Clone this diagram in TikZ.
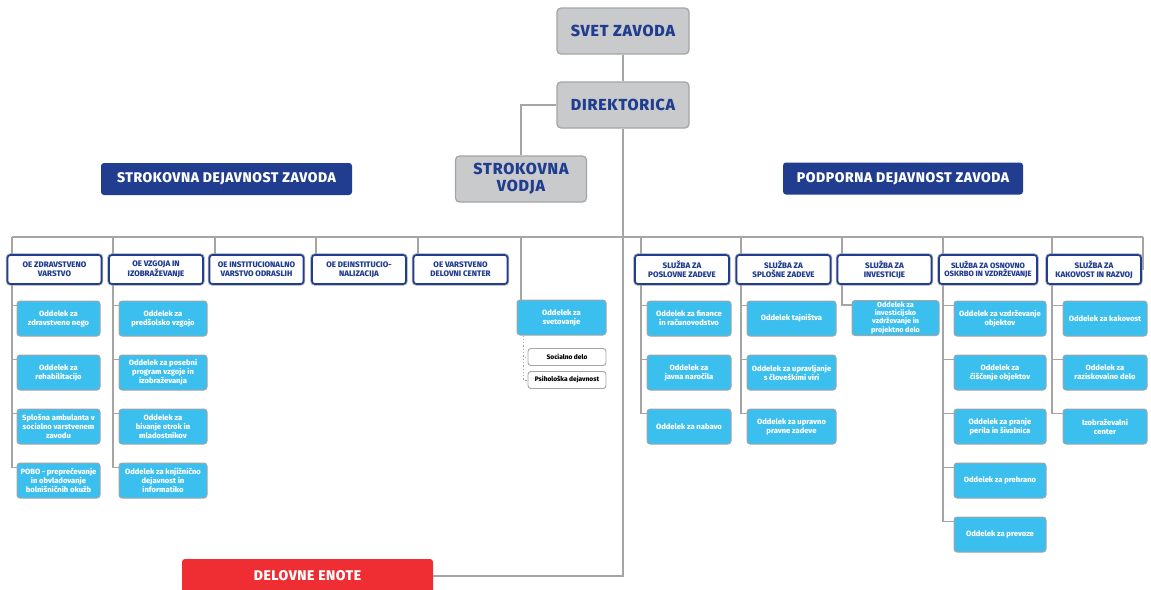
\documentclass[tikz,border=0pt]{standalone}
\usepackage{fontspec}
\setmainfont{Fira Sans}[BoldFont={Fira Sans ExtraBold}]
\usetikzlibrary{shapes,positioning,backgrounds}
\definecolor{navy}{HTML}{213D8F}
\definecolor{boxgray}{HTML}{A3A4A6}
\definecolor{topgray}{HTML}{C9CACC}
\definecolor{cellblue}{HTML}{3BBFEE}
\definecolor{wiregray}{HTML}{A5A5A5}
\definecolor{enotered}{HTML}{EE2E33}
\tikzstyle{topbox} = [rectangle, draw=boxgray, fill=topgray, line width=1.2pt,
    rounded corners=4pt, minimum width=132pt, minimum height=46pt, text=navy,
    align=center, font=\bfseries\fontsize{16}{17}\selectfont\addfontfeatures{LetterSpace=5}]
\tikzstyle{header} = [rectangle, fill=navy, rounded corners=3pt, text=white,
    minimum height=32pt, font=\bfseries\fontsize{14}{14}\selectfont\addfontfeatures{LetterSpace=4}]
\tikzstyle{oebox} = [rectangle, rounded corners=3pt, draw=navy,
    fill=white, line width=1.6pt, preaction={draw=boxgray, line width=3.4pt},
    minimum width=94pt, minimum height=29pt, inner sep=1pt, text=navy,
    align=center, font=\bfseries\fontsize{8}{8.8}\selectfont]
\tikzstyle{cell} = [rectangle, rounded corners=3pt, draw=boxgray,
    fill=cellblue, line width=1pt, minimum height=35pt, inner sep=1pt, text=white,
    align=center, font=\bfseries\fontsize{7.6}{9}\selectfont]
\tikzstyle{subbox} = [rectangle, rounded corners=3pt, draw=boxgray, line width=0.9pt,
    fill=white, minimum width=78pt, minimum height=17pt, inner sep=1pt,
    font=\bfseries\fontsize{6.6}{7}\selectfont]
\tikzstyle{wire} = [draw=wiregray, line width=1.3pt]
\begin{document}
\begin{tikzpicture}[x=1pt,y=-1pt]
  \useasboundingbox (0,0) rectangle (1151,589);
  % Place top boxes
  \node [topbox] (svet) at (623,31) {SVET ZAVODA};
  \node [topbox] (dir) at (623,105) {DIREKTORICA};
  \node [topbox, minimum width=131pt] (vodja) at (521,179) {STROKOVNA\\VODJA};
  \node [header, minimum width=251pt] (strok) at (226.5,179) {STROKOVNA DEJAVNOST ZAVODA};
  \node [header, minimum width=240pt] (podp) at (903,178.5) {PODPORNA DEJAVNOST ZAVODA};
  \node [header, fill=enotered, minimum width=251pt, minimum height=34pt] (enote) at (307.5,576) {DELOVNE ENOTE};
  % Place units
  \node [oebox] (oeZ) at (54.5,269.5) {OE ZDRAVSTVENO\\VARSTVO};
  \node [oebox] (oeV) at (156,269.5) {OE VZGOJA IN\\IZOBRAŽEVANJE};
  \node [oebox] (oeI) at (256.5,269.5) {OE INSTITUCIONALNO\\VARSTVO ODRASLIH};
  \node [oebox] (oeD) at (359,269.5) {OE DEINSTITUCIO-\\NALIZACIJA};
  \node [oebox] (oeC) at (460.5,269.5) {OE VARSTVENO\\DELOVNI CENTER};
  \node [oebox] (slP) at (682,269.5) {SLUŽBA ZA\\POSLOVNE ZADEVE};
  \node [oebox] (slS) at (783.5,269.5) {SLUŽBA ZA\\SPLOŠNE ZADEVE};
  \node [oebox] (slI) at (884.5,269.5) {SLUŽBA ZA\\INVESTICIJE};
  \node [oebox, minimum width=98pt, font=\bfseries\fontsize{7.7}{8.8}\selectfont] (slO) at (988,269.5) {SLUŽBA ZA OSNOVNO\\OSKRBO IN VZDRŽEVANJE};
  \node [oebox] (slK) at (1094,269.5) {SLUŽBA ZA\\KAKOVOST IN RAZVOJ};
  % Place departments
  \node [cell, minimum width=83pt] (zd1) at (58.5,318.5) {Oddelek za\\zdravstveno nego};
  \node [cell, minimum width=83pt, below=18pt of zd1] (zd2) {Oddelek za\\rehabilitacijo};
  \node [cell, minimum width=83pt, below=18pt of zd2] (zd3) {Splošna ambulanta v\\socialno varstvenem\\zavodu};
  \node [cell, minimum width=83pt, below=18pt of zd3] (zd4) {POBO - preprečevanje\\in obvladovanje\\bolnišničnih okužb};
  \node [cell, minimum width=88pt] (vz1) at (163,318.5) {Oddelek za\\predšolsko vzgojo};
  \node [cell, minimum width=88pt, below=18pt of vz1] (vz2) {Oddelek za posebni\\program vzgoje in\\izobraževanja};
  \node [cell, minimum width=88pt, below=18pt of vz2] (vz3) {Oddelek za\\bivanje otrok in\\mladostnikov};
  \node [cell, minimum width=88pt, below=18pt of vz3] (vz4) {Oddelek za knjižnično\\dejavnost in\\informatiko};
  \node [cell, minimum width=89pt] (sv) at (561.5,317.5) {Oddelek za\\svetovanje};
  \node [subbox] (soc) at (567,357) {Socialno delo};
  \node [subbox] (psih) at (567,380) {Psihološka dejavnost};
  \node [cell, minimum width=84pt] (po1) at (689,318.5) {Oddelek za finance\\in računovodstvo};
  \node [cell, minimum width=84pt, below=18pt of po1] (po2) {Oddelek za\\javna naročila};
  \node [cell, minimum width=84pt, below=18pt of po2] (po3) {Oddelek za nabavo};
  \node [cell, minimum width=89pt] (sp1) at (791.5,318.5) {Oddelek tajništva};
  \node [cell, minimum width=89pt, below=18pt of sp1] (sp2) {Oddelek za upravljanje\\s človeškimi viri};
  \node [cell, minimum width=89pt, below=18pt of sp2] (sp3) {Oddelek za upravno\\pravne zadeve};
  \node [cell, minimum width=87pt, font=\bfseries\fontsize{7.2}{7.4}\selectfont] (in1) at (895.5,318) {Oddelek za\\investicijsko\\vzdrževanje in\\projektno delo};
  \node [cell, minimum width=92pt] (os1) at (1000,318.5) {Oddelek za vzdrževanje\\objektov};
  \node [cell, minimum width=92pt, below=18pt of os1] (os2) {Oddelek za\\čiščenje objektov};
  \node [cell, minimum width=92pt, below=18pt of os2] (os3) {Oddelek za pranje\\perila in šivalnica};
  \node [cell, minimum width=92pt, below=18pt of os3] (os4) {Oddelek za prehrano};
  \node [cell, minimum width=92pt, below=18pt of os4] (os5) {Oddelek za prevoze};
  \node [cell, minimum width=84pt] (ka1) at (1105,318.5) {Oddelek za kakovost};
  \node [cell, minimum width=84pt, below=18pt of ka1] (ka2) {Oddelek za\\raziskovalno delo};
  \node [cell, minimum width=84pt, below=18pt of ka2] (ka3) {Izobraževalni\\center};
  % Bus points
  \coordinate (bL1) at (12,237);   \coordinate (bL2) at (113,237);
  \coordinate (bL3) at (215,237);  \coordinate (bL4) at (316,237);
  \coordinate (bL5) at (418,237);  \coordinate (bL6) at (521,237);
  \coordinate (bR1) at (641,237);  \coordinate (bR2) at (741,237);
  \coordinate (bR3) at (842,237);  \coordinate (bR4) at (943,237);
  \coordinate (bR5) at (1052,237); \coordinate (bR6) at (1143,237);
  % Draw edges
  \begin{scope}[on background layer]
    \draw[wire] (svet.south) -- (dir.north);
    \draw[wire] (dir.west) -| (vodja.north);
    \draw[wire] (dir.south) |- (enote.east);
    \draw[wire] (bL1) -- (bR6);
    \foreach \c in {zd1,zd2,zd3,zd4} \draw[wire] (bL1) |- ([yshift=-5pt]\c.north west);
    \foreach \c in {vz1,vz2,vz3,vz4} \draw[wire] (bL2) |- ([yshift=-5pt]\c.north west);
    \draw[wire] (bL3) -- (bL3 |- oeI);
    \draw[wire] (bL4) -- (bL4 |- oeD);
    \draw[wire] (bL5) -- (bL5 |- oeC);
    \draw[wire] (bL6) -- (bL6 |- sv);
    \foreach \c in {soc,psih} \draw[wire, dotted, line width=0.7pt] ([xshift=7pt]sv.south west) |- (\c.west);
    \foreach \c in {po1,po2,po3} \draw[wire] (bR1) |- ([yshift=-5pt]\c.north west);
    \foreach \c in {sp1,sp2,sp3} \draw[wire] (bR2) |- ([yshift=-5pt]\c.north west);
    \draw[wire] (bR3) |- ([yshift=-5pt]in1.north west);
    \foreach \c in {os1,os2,os3,os4,os5} \draw[wire] (bR4) |- ([yshift=-5pt]\c.north west);
    \foreach \c in {ka1,ka2,ka3} \draw[wire] (bR5) |- ([yshift=-5pt]\c.north west);
    \draw[wire] (bR6) -- (bR6 |- slK);
  \end{scope}
\end{tikzpicture}
\end{document}
